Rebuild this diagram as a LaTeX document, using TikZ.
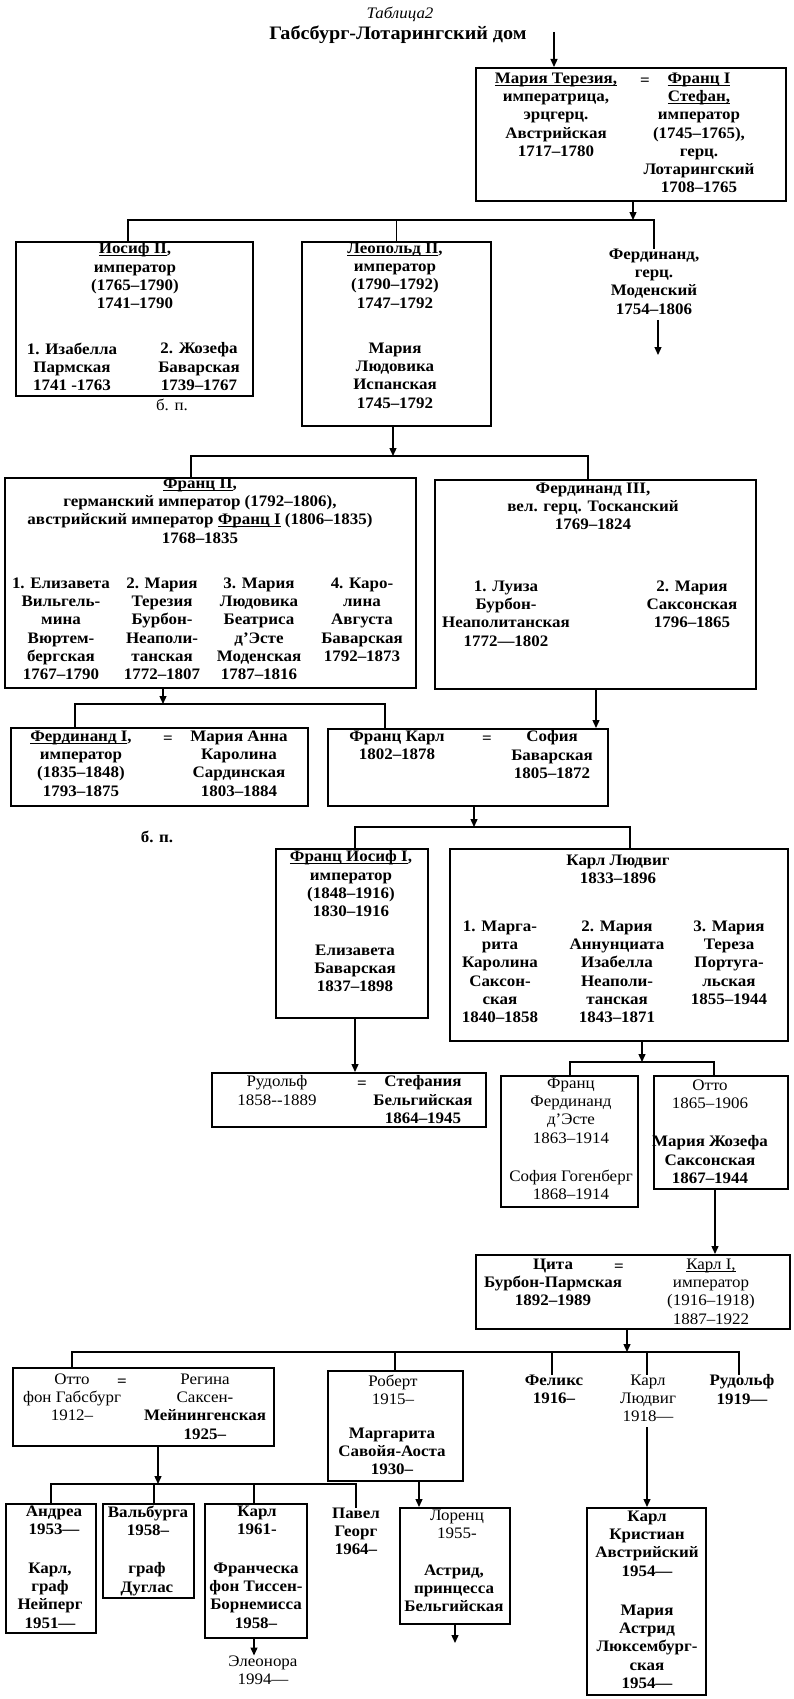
\documentclass[tikz,border=0pt]{standalone}
\usepackage{fontspec}
\setmainfont{Liberation Serif}[FakeStretch=1.06]
\usepackage{tikz}
\usetikzlibrary{arrows.meta}

\newcommand{\ulname}[1]{\leavevmode\setbox0=\hbox{#1}\rlap{\rule[-2.4pt]{\wd0}{0.9pt}}\box0\relax}

\begin{document}
\begin{tikzpicture}[x=1pt, y=-1pt]

\tikzstyle{famblock}=[draw, line width=1.6pt, anchor=north west, inner sep=0pt]
\tikzstyle{famtext}=[anchor=north, align=center, inner sep=0pt, font=\fontsize{16}{18.3}\selectfont\bfseries, execute at begin node=\strut]
\tikzstyle{plaintext}=[famtext, font=\fontsize{16}{18.3}\selectfont]
\tikzstyle{link}=[line width=1.3pt]
\tikzstyle{arr}=[link, -{Triangle[length=8pt,width=7pt]}]

\useasboundingbox (0,0) rectangle (794,1699);

% title %
\node[plaintext, font=\fontsize{16}{18.3}\selectfont\itshape] (tabl) at (400,5.5) {Таблица2};
\node[famtext, font=\fontsize{19}{22}\selectfont\bfseries] (title) at (398,24) {Габсбург-Лотарингский дом};

% boxes %
\node[famblock, minimum width=310pt, minimum height=133pt] (mt) at (475,67) {};
\node[famblock, minimum width=237pt, minimum height=154pt] (iosif) at (15,241) {};
\node[famblock, minimum width=189pt, minimum height=184pt] (leo) at (301,241) {};
\node[famblock, minimum width=411pt, minimum height=210pt] (fII) at (4,477) {};
\node[famblock, minimum width=321pt, minimum height=209pt] (fIII) at (434,479) {};
\node[famblock, minimum width=297pt, minimum height=78pt] (fI) at (10,727) {};
\node[famblock, minimum width=280pt, minimum height=77pt] (fk) at (327,728) {};
\node[famblock, minimum width=152pt, minimum height=169pt] (fj) at (275,848) {};
\node[famblock, minimum width=338pt, minimum height=192pt] (kl) at (449,848) {};
\node[famblock, minimum width=274pt, minimum height=54pt] (rud) at (211,1072) {};
\node[famblock, minimum width=137pt, minimum height=131pt] (ffe) at (500,1075) {};
\node[famblock, minimum width=134pt, minimum height=113pt] (otto) at (653,1075) {};
\node[famblock, minimum width=314pt, minimum height=74pt] (zk) at (475,1254) {};
\node[famblock, minimum width=261pt, minimum height=78pt] (ovh) at (12,1367) {};
\node[famblock, minimum width=135pt, minimum height=110pt] (rob) at (327,1370) {};
\node[famblock, minimum width=90pt, minimum height=129pt] (andr) at (5,1503) {};
\node[famblock, minimum width=91pt, minimum height=94pt] (walb) at (102,1503) {};
\node[famblock, minimum width=102pt, minimum height=134pt] (karl) at (204,1503) {};
\node[famblock, minimum width=110pt, minimum height=116pt] (lor) at (399,1507) {};
\node[famblock, minimum width=119pt, minimum height=187pt] (kc) at (586,1507) {};

% texts %
\node[famtext] (mtL) at (556,72.5) {\ulname{Мария Терезия,}\\императрица,\\эрцгерц.\\Австрийская\\1717–1780};
\node[famtext] (mteq) at (645,72.5) {=};
\node[famtext] (mtR) at (699,72.5) {\ulname{Франц I}\\\ulname{Стефан,}\\император\\(1745–1765),\\герц.\\Лотарингский\\1708–1765};

\node[famtext] (iosifT) at (135,242.5) {\ulname{Иосиф II},\\император\\(1765–1790)\\1741–1790};
\node[famtext] (iosifW1) at (72,342.5) {1. Изабелла\\Пармская\\1741 -1763};
\node[famtext] (iosifW2) at (199,342.5) {2. Жозефа\\Баварская\\1739–1767};
\node[plaintext] (bp1) at (172,397.5) {б. п.};

\node[famtext] (leoT) at (395,242.5) {\ulname{Леопольд II},\\император\\(1790–1792)\\1747–1792};
\node[famtext] (leoW) at (395,342.5) {Мария\\Людовика\\Испанская\\1745–1792};

\node[famtext] (ferdm) at (654,248.5) {Фердинанд,\\герц.\\Моденский\\1754–1806};

\node[famtext] (fIIT) at (200,477.5) {\ulname{Франц II},\\германский император (1792–1806),\\австрийский император \ulname{Франц I} (1806–1835)\\1768–1835};
\node[famtext] (fIIW1) at (61,577.5) {1. Елизавета\\Вильгель-\\мина\\Вюртем-\\бергская\\1767–1790};
\node[famtext] (fIIW2) at (162,577.5) {2. Мария\\Терезия\\Бурбон-\\Неаполи-\\танская\\1772–1807};
\node[famtext] (fIIW3) at (259,577.5) {3. Мария\\Людовика\\Беатриса\\д'Эсте\\Моденская\\1787–1816};
\node[famtext] (fIIW4) at (362,577.5) {4. Каро-\\лина\\Августа\\Баварская\\1792–1873};

\node[famtext] (fIIIT) at (593,482.5) {Фердинанд III,\\вел. герц. Тосканский\\1769–1824};
\node[famtext] (fIIIW1) at (506,580.5) {1. Луиза\\Бурбон-\\Неаполитанская\\1772—1802};
\node[famtext] (fIIIW2) at (692,580.5) {2. Мария\\Саксонская\\1796–1865};

\node[famtext] (fIT) at (81,730.5) {\ulname{Фердинанд I},\\император\\(1835–1848)\\1793–1875};
\node[famtext] (fIeq) at (168,730.5) {=};
\node[famtext] (fIR) at (239,730.5) {Мария Анна\\Каролина\\Сардинская\\1803–1884};
\node[famtext] (bp2) at (157,829.5) {б. п.};

\node[famtext] (fkL) at (397,730.5) {Франц Карл\\1802–1878};
\node[famtext] (fkeq) at (487,730.5) {=};
\node[famtext] (fkR) at (552,730.5) {София\\Баварская\\1805–1872};

\node[famtext] (fjT) at (351,850.5) {\ulname{Франц Иосиф I},\\император\\(1848–1916)\\1830–1916};
\node[famtext] (fjW) at (355,944.5) {Елизавета\\Баварская\\1837–1898};

\node[famtext] (klT) at (618,854.5) {Карл Людвиг\\1833–1896};
\node[famtext] (klW1) at (500,920.5) {1. Марга-\\рита\\Каролина\\Саксон-\\ская\\1840–1858};
\node[famtext] (klW2) at (617,920.5) {2. Мария\\Аннунциата\\Изабелла\\Неаполи-\\танская\\1843–1871};
\node[famtext] (klW3) at (729,920.5) {3. Мария\\Тереза\\Португа-\\льская\\1855–1944};

\node[plaintext] (rudL) at (277,1075.5) {Рудольф\\1858-{}-1889};
\node[famtext] (rudeq) at (362,1075.5) {=};
\node[famtext] (rudR) at (423,1075.5) {Стефания\\Бельгийская\\1864–1945};

\node[plaintext] (ffeT) at (571,1077.5) {Франц\\Фердинанд\\д'Эсте\\1863–1914};
\node[plaintext] (ffeW) at (571,1169.5) {София Гогенберг\\1868–1914};

\node[plaintext] (ottoT) at (710,1079.5) {Отто\\1865–1906};
\node[famtext] (ottoW) at (710,1135.5) {Мария Жозефа\\Саксонская\\1867–1944};

\node[famtext] (zkL) at (553,1258.5) {Цита\\Бурбон-Пармская\\1892–1989};
\node[famtext] (zkeq) at (619,1258.5) {=};
\node[plaintext] (zkR) at (711,1258.5) {\ulname{Карл I,}\\император\\(1916–1918)\\1887–1922};

\node[famtext] (felix) at (554,1374.5) {Феликс\\1916–};
\node[plaintext] (kludw) at (648,1374.5) {Карл\\Людвиг\\1918—};
\node[famtext] (rudj) at (742,1374.5) {Рудольф\\1919—};

\node[plaintext] (ovhL) at (72,1373.5) {Отто\\фон Габсбург\\1912–};
\node[famtext] (ovheq) at (122,1373.5) {=};
\node[plaintext] (ovhR) at (205,1373.5) {Регина\\Саксен-\\\textbf{Мейнингенская}\\\textbf{1925–}};

\node[plaintext] (robT) at (393,1374.5) {Роберт\\1915–};
\node[famtext] (robW) at (392,1427.5) {Маргарита\\Савойя-Аоста\\1930–};

\node[famtext] (andT) at (54,1505.5) {Андреа\\1953—};
\node[famtext] (andW) at (50,1562.5) {Карл,\\граф\\Нейперг\\1951—};
\node[famtext] (walT) at (148,1505.5) {Вальбурга\\1958–};
\node[famtext] (walW) at (147,1562.5) {граф\\Дуглас};
\node[famtext] (karlT) at (257,1505.5) {Карл\\1961-};
\node[famtext] (karlW) at (256,1562.5) {Франческа\\фон Тиссен-\\Борнемисса\\1958–};
\node[famtext] (pavel) at (356,1507.5) {Павел\\Георг\\1964–};
\node[plaintext] (eleo) at (263,1655.5) {Элеонора\\1994—};

\node[plaintext] (lorT) at (457,1509.5) {Лоренц\\1955-};
\node[famtext] (lorW) at (454,1564.5) {Астрид,\\принцесса\\Бельгийская};

\node[famtext] (kcT) at (647,1510.5) {Карл\\Кристиан\\Австрийский\\1954—};
\node[famtext] (kcW) at (647,1604.5) {Мария\\Астрид\\Люксембург-\\ская\\1954—};

% edges %
\coordinate (top) at (554,32);
\draw[arr] (top) -- (mt.north -| top);

\coordinate (j1) at (633,220);
\coordinate (b1a) at (128,220);
\coordinate (b1b) at (654,220);
\draw[arr] (mt.south -| j1) -- (j1);
\draw[link] (iosif.north -| b1a) -- (b1a) -- (b1b) -- (ferdm.north -| b1b);
\draw[link] (leo.north) -- (leo.north |- b1a);
\coordinate (fmend) at (658,355);
\draw[arr] (ferdm.south -| fmend) -- (fmend);

\coordinate (j2) at (393,456);
\coordinate (b2a) at (191,456);
\coordinate (b2b) at (588,456);
\draw[arr] (leo.south -| j2) -- (j2);
\draw[link] (fII.north -| b2a) -- (b2a) -- (b2b) -- (fIII.north -| b2b);

\coordinate (j3) at (163,704);
\coordinate (b3a) at (75,704);
\coordinate (b3b) at (385,704);
\draw[arr] (fII.south -| j3) -- (j3);
\draw[link] (fI.north -| b3a) -- (b3a) -- (b3b) -- (fk.north -| b3b);
\coordinate (x4) at (596,0);
\draw[arr] (fIII.south -| x4) -- (fk.north -| x4);

\coordinate (j5) at (474,827);
\coordinate (b5a) at (355,827);
\coordinate (b5b) at (630,827);
\draw[arr] (fk.south -| j5) -- (j5);
\draw[link] (fj.north -| b5a) -- (b5a) -- (b5b) -- (kl.north -| b5b);
\draw[arr] (fj.south -| b5a) -- (rud.north -| b5a);

\coordinate (j6) at (642,1062);
\coordinate (b6a) at (570,1062);
\coordinate (b6b) at (714,1062);
\draw[arr] (kl.south -| j6) -- (j6);
\draw[link] (ffe.north -| b6a) -- (b6a) -- (b6b) -- (otto.north -| b6b);
\coordinate (x7) at (715,0);
\draw[arr] (otto.south -| x7) -- (zk.north -| x7);

\coordinate (j7) at (627,1352);
\coordinate (b7a) at (72,1352);
\coordinate (b7b) at (739,1352);
\draw[arr] (zk.south -| j7) -- (j7);
\draw[link] (ovh.north -| b7a) -- (b7a) -- (b7b) -- (rudj.north -| b7b);
\coordinate (x7r) at (395,0);
\coordinate (x7f) at (552,0);
\coordinate (x7k) at (647,0);
\draw[link] (rob.north -| x7r) -- (b7a -| x7r);
\draw[link] (felix.north -| x7f) -- (b7a -| x7f);
\draw[link] (kludw.north -| x7k) -- (b7a -| x7k);
\draw[arr] (kludw.south -| x7k) -- (kc.north -| x7k);

\coordinate (j8) at (158,1484);
\coordinate (b8a) at (51,1484);
\coordinate (b8b) at (356,1484);
\draw[arr] (ovh.south -| j8) -- (j8);
\draw[link] (andr.north -| b8a) -- (b8a) -- (b8b) -- (pavel.north -| b8b);
\coordinate (x8w) at (154,0);
\coordinate (x8k) at (254,0);
\draw[link] (walb.north -| x8w) -- (b8a -| x8w);
\draw[link] (karl.north -| x8k) -- (b8a -| x8k);
\draw[arr] (karl.south -| x8k) -- (eleo.north -| x8k);

\coordinate (x9) at (419,0);
\draw[arr] (rob.south -| x9) -- (lor.north -| x9);
\coordinate (lorend) at (455,1643);
\draw[arr] (lor.south -| lorend) -- (lorend);

\end{tikzpicture}
\end{document}
